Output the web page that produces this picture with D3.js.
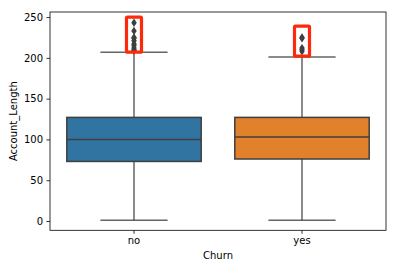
<!DOCTYPE html>
<html>
<head>
<meta charset="utf-8">
<script src="https://cdn.jsdelivr.net/npm/d3@7"></script>
<style>
html,body{margin:0;padding:0;background:#fff;}
svg{display:block;}
text{font-family:"DejaVu Sans",sans-serif;}
</style>
</head>
<body>
<svg id="chart" width="420" height="270"></svg>
<script>
// ---- data ----
const categories = ["no", "yes"];
const whiskerLow = [1, 1];
const q1 = [73, 76];
const median = [100, 103];
const q3 = [127, 127];
const whiskerHigh = [207, 201];
const outliersNo = [209, 210, 212, 215, 217, 221, 224, 225, 233, 243];
const outliersYes = [208, 210, 212, 224, 225];
const highlightLow = [207, 202];
const highlightHigh = [250, 239];
const yTicks = [0, 50, 100, 150, 200, 250];
const boxColors = ["#3274a1", "#e1812c"];

// ---- layout ----
const svg = d3.select("#chart");
const L = 50, R = 386, T = 12, B = 230.3;
const x = d3.scaleBand().domain(categories).range([L, R]).paddingInner(0).paddingOuter(0);
const y = d3.scaleLinear().domain([-11.4, 256.2]).range([B, T]);
const lineCol = "#3f3f3f";
const bw = x.bandwidth() * 0.8;

const outliers = [outliersNo, outliersYes];

categories.forEach((c, i) => {
  const cx = x(c) + x.bandwidth() / 2;
  const g = svg.append("g");
  // whiskers
  g.append("line").attr("x1", cx).attr("x2", cx).attr("y1", y(q3[i])).attr("y2", y(whiskerHigh[i]))
    .attr("stroke", lineCol).attr("stroke-width", 1.5).attr("opacity", 0.8);
  g.append("line").attr("x1", cx).attr("x2", cx).attr("y1", y(q1[i])).attr("y2", y(whiskerLow[i]))
    .attr("stroke", lineCol).attr("stroke-width", 1.5).attr("opacity", 0.8);
  // caps
  [whiskerHigh[i], whiskerLow[i]].forEach(v => {
    g.append("line").attr("x1", cx - bw / 4).attr("x2", cx + bw / 4).attr("y1", y(v)).attr("y2", y(v))
      .attr("stroke", lineCol).attr("stroke-width", 1.5).attr("opacity", 0.8);
  });
  // box
  g.append("rect").attr("x", cx - bw / 2).attr("width", bw)
    .attr("y", y(q3[i])).attr("height", y(q1[i]) - y(q3[i]))
    .attr("fill", boxColors[i]).attr("stroke", lineCol).attr("stroke-width", 1.5);
  // median
  g.append("line").attr("x1", cx - bw / 2).attr("x2", cx + bw / 2).attr("y1", y(median[i])).attr("y2", y(median[i]))
    .attr("stroke", lineCol).attr("stroke-width", 1.5);
  // outliers (diamonds)
  const sym = d3.symbol().type(d3.symbolDiamond).size(20);
  g.selectAll("path.fl").data(outliers[i]).enter().append("path")
    .attr("transform", d => `translate(${cx},${y(d)}) scale(1.15,1)`)
    .attr("d", sym).attr("fill", lineCol);
  // highlight rectangles
  g.append("rect").attr("x", cx - 7.5).attr("width", 15)
    .attr("y", y(highlightHigh[i])).attr("height", y(highlightLow[i]) - y(highlightHigh[i]))
    .attr("fill", "none").attr("stroke", "#fc2a0a").attr("stroke-width", 3.2).attr("rx", 1);
});

// axes
const yAxis = d3.axisLeft(y).tickValues(yTicks).tickSize(3.5).tickPadding(3.5);
const ya = svg.append("g").attr("transform", `translate(${L},0)`).call(yAxis);
const xAxis = d3.axisBottom(x).tickSize(3.5).tickPadding(3.5);
const xa = svg.append("g").attr("transform", `translate(0,${B})`).call(xAxis);
[ya, xa].forEach(a => {
  a.select(".domain").remove();
  a.selectAll("line").attr("stroke", "#000").attr("stroke-width", 0.8);
  a.selectAll("text").attr("font-size", 10).attr("fill", "#000").attr("font-family", "DejaVu Sans");
});
// frame
svg.append("rect").attr("x", L).attr("y", T).attr("width", R - L).attr("height", B - T)
  .attr("fill", "none").attr("stroke", "#000").attr("stroke-width", 0.8);

// labels
svg.append("text").attr("x", (L + R) / 2).attr("y", 259).attr("text-anchor", "middle")
  .attr("font-size", 10).attr("fill", "#000").text("Churn");
svg.append("text").attr("transform", `translate(17,${(T + B) / 2}) rotate(-90)`).attr("text-anchor", "middle")
  .attr("font-size", 10).attr("fill", "#000").text("Account_Length");
</script>
</body>
</html>
